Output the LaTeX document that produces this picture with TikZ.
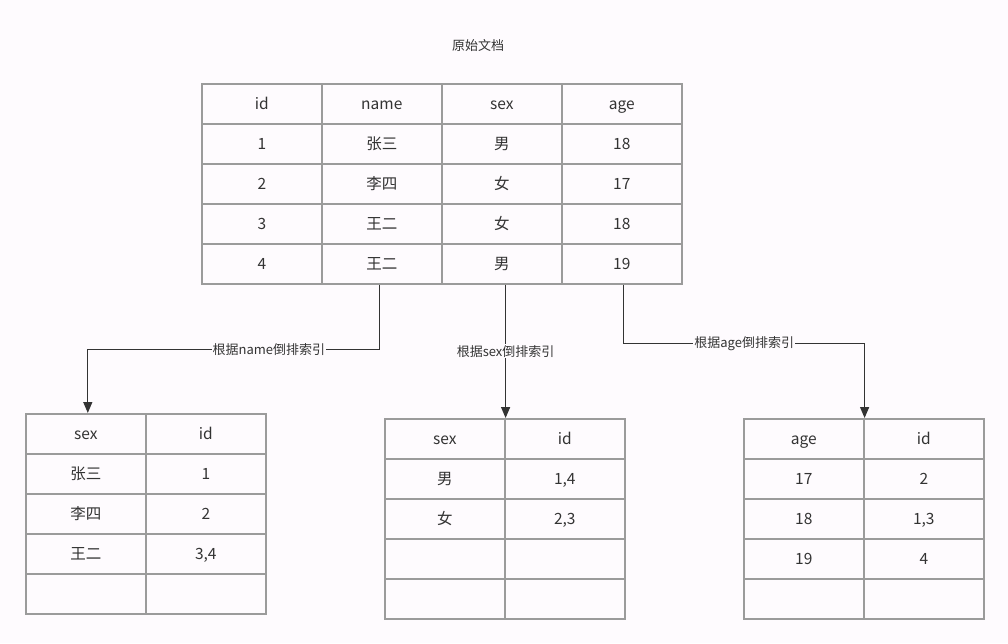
\documentclass[tikz,border=0pt]{standalone}
\usepackage{fontspec}
\setmainfont{Noto Sans CJK SC}
\usetikzlibrary{arrows.meta}
\definecolor{bgc}{RGB}{254,251,254}
\definecolor{gridc}{RGB}{155,155,155}
\definecolor{ink}{RGB}{51,51,51}
\tikzset{
  cell/.style={draw=gridc, line width=1.6pt, minimum width=120pt, minimum height=40pt,
    inner sep=0pt, anchor=north west, text=ink, text height=12.5pt, text depth=1.5pt,
    font=\fontsize{15.5}{18}\selectfont},
  link/.style={draw=ink, line width=1.3pt, -{Triangle[length=11pt,width=9pt]}},
  lbl/.style={fill=bgc, inner sep=1pt, text=ink, font=\fontsize{13}{15}\selectfont},
}
\begin{document}
\begin{tikzpicture}[x=1pt,y=-1pt]
\fill[bgc] (0,0) rectangle (1008,643);
\useasboundingbox (0,0) rectangle (1008,643);
\node[lbl] (title) at (478,46) {原始文档};
% original table
\foreach \r/\a/\b/\c/\d in {0/id/name/sex/age, 1/1/张三/男/18, 2/2/李四/女/17, 3/3/王二/女/18, 4/4/王二/男/19}{
  \node[cell] (o-\r-1) at (201,{83+40*\r}) {\a};
  \node[cell] (o-\r-2) at (321,{83+40*\r}) {\b};
  \node[cell] (o-\r-3) at (441,{83+40*\r}) {\c};
  \node[cell] (o-\r-4) at (561,{83+40*\r}) {\d};
}
% name index
\foreach \r/\a/\b in {0/sex/id, 1/张三/1, 2/李四/2, 3/王二/{3,4}, 4//}{
  \node[cell] (l-\r-1) at (25,{413+40*\r}) {\a};
  \node[cell] (l-\r-2) at (145,{413+40*\r}) {\b};
}
% sex index
\foreach \r/\a/\b in {0/sex/id, 1/男/{1,4}, 2/女/{2,3}, 3//, 4//}{
  \node[cell] (m-\r-1) at (384,{418+40*\r}) {\a};
  \node[cell] (m-\r-2) at (504,{418+40*\r}) {\b};
}
% age index
\foreach \r/\a/\b in {0/age/id, 1/17/2, 2/18/{1,3}, 3/19/4, 4//}{
  \node[cell] (r-\r-1) at (743,{418+40*\r}) {\a};
  \node[cell] (r-\r-2) at (863,{418+40*\r}) {\b};
}
% connectors
\draw[link] ([xshift=-2pt]o-4-2.south) -- ++(0,65) coordinate (k1)
  -| node[lbl,pos=0.19] (lab1) {根据name倒排索引} ([xshift=2pt]l-0-1.north);
\draw[link] (m-0-1.north east |- o-4-3.south) -- node[lbl] (lab2) {根据sex倒排索引} (m-0-1.north east);
\draw[link] ([xshift=2pt]o-4-4.south) -- ++(0,59) coordinate (k3)
  -| node[lbl,pos=0.25] (lab3) {根据age倒排索引} (r-0-1.north east);
\end{tikzpicture}
\end{document}
